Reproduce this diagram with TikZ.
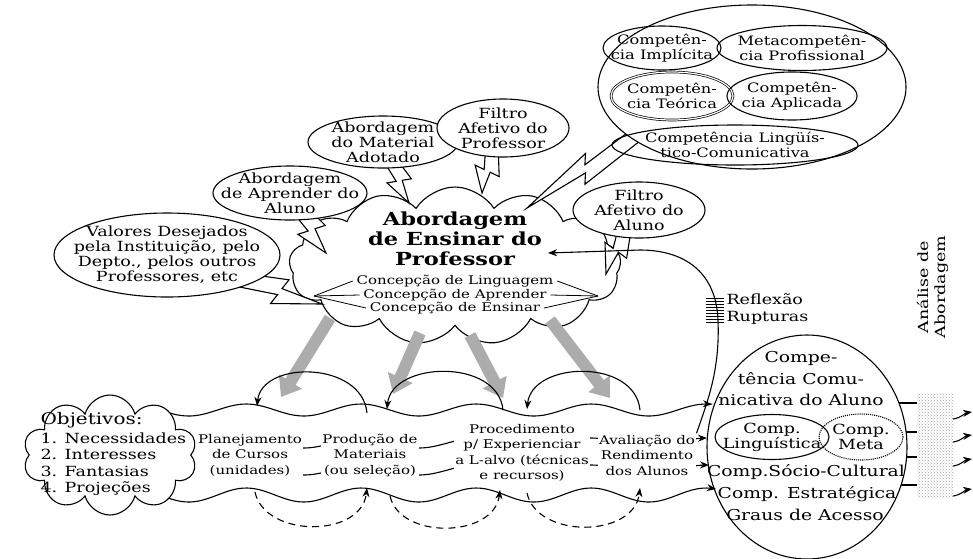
\documentclass[tikz,border=0pt]{standalone}
\usepackage{fontspec}
\setmainfont{DejaVu Serif}[FakeStretch=1.25]
\usetikzlibrary{shapes.geometric,shapes.symbols,arrows.meta,patterns}

\begin{document}
\begin{tikzpicture}[x=1pt, y=-1pt, line width=1.1pt,
  bubble/.style={ellipse, draw, fill=white, inner sep=0pt},
  inbubble/.style={ellipse, draw, inner sep=0pt},
  lbl/.style={align=center, inner sep=0pt, font=\fontsize{14}{15}\selectfont},
  smalllbl/.style={align=center, inner sep=0pt, font=\fontsize{13}{14.5}\selectfont},
  tail/.style={draw, fill=white},
  rowtxt/.style={align=center, fill=white, inner sep=1pt, font=\fontsize{12}{15.5}\selectfont},
  alunotxt/.style={align=center, inner sep=0pt, font=\fontsize{15}{21.5}\selectfont},
  bigarrow/.style={line width=12pt, gray!65, -{Triangle[length=18pt,width=26pt]}},
  flow/.style={-{Stealth[length=9pt,width=7pt]}},
]
\useasboundingbox (0,0) rectangle (973,558);

% teaching approach cloud
\node[cloud, draw, cloud puffs=13, cloud puff arc=115, cloud ignores aspect,
  minimum width=332pt, minimum height=158pt, inner sep=0pt] (ensino) at (455,266) {};

% callout tails
\draw[tail] (242,273.3) -- (289,279.8) -- (282,288.6) -- (322,304) -- (270.5,303.5) -- (277.6,294.6) -- (238,286.7) -- cycle;
\draw[tail] (303.9,204.3) -- (325.3,225.4) -- (315,228.7) -- (326,253) -- (297.9,234.3) -- (308.2,231) -- (292.1,211.7) -- cycle;
\draw[tail] (395.5,157.6) -- (411.4,178.8) -- (402.2,180.3) -- (409,203) -- (387,182.9) -- (396.2,181.4) -- (384.5,162.4) -- cycle;
\draw[tail] (498.3,151.5) -- (499.2,176.6) -- (490.2,172.2) -- (482,193) -- (475.1,165.1) -- (484.1,169.5) -- (485.7,148.5) -- cycle;
\draw[tail] (643.9,137.8) -- (584.9,184.3) -- (585.5,172.9) -- (527,208) -- (585.5,153.5) -- (584.9,164.8) -- (636.1,126.2) -- cycle;
\draw[tail] (631,230.5) -- (626.6,258.3) -- (618.5,252.2) -- (606,274) -- (605,242.3) -- (613.1,248.4) -- (619,225.5) -- cycle;

% callouts
\node[bubble, minimum width=226pt, minimum height=84pt,
  label={[lbl]center:{Valores Desejados\\pela Instituição, pelo\\Depto., pelos outros\\Professores, etc}}] (valores) at (167,255) {};
\node[bubble, minimum width=154pt, minimum height=54pt,
  label={[lbl]center:{Abordagem\\de Aprender do\\Aluno}}] (aprender) at (290,193) {};
\node[bubble, minimum width=150pt, minimum height=52pt,
  label={[lbl]center:{Abordagem\\do Material\\Adotado}}] (material) at (383,142) {};
\node[bubble, minimum width=132pt, minimum height=58pt,
  label={[lbl]center:{Filtro\\Afetivo do\\Professor}}] (filtroP) at (503,128) {};
\node[bubble, minimum width=308pt, minimum height=164pt] (compet) at (752,87) {};
\node[inbubble, minimum width=118pt, minimum height=44pt,
  label={[smalllbl]center:{Competên-\\cia Implícita}}] (implicita) at (662,48) {};
\node[inbubble, minimum width=170pt, minimum height=45pt,
  label={[smalllbl]center:{Metacompetên-\\cia Profissional}}] (metaprof) at (802,48) {};
\node[inbubble, double, double distance=1.2pt, line width=0.7pt, minimum width=122pt, minimum height=48pt,
  label={[smalllbl]center:{Competên-\\cia Teórica}}] (teorica) at (672,96) {};
\node[inbubble, minimum width=130pt, minimum height=48pt,
  label={[smalllbl]center:{Competên-\\cia Aplicada}}] (aplicada) at (792,96) {};
\node[inbubble, minimum width=246pt, minimum height=40pt,
  label={[smalllbl]center:{Competência Lingüís-\\tico-Comunicativa}}] (lingcom) at (735,145) {};
\node[bubble, minimum width=132pt, minimum height=56pt,
  label={[lbl]center:{Filtro\\Afetivo do\\Aluno}}] (filtroA) at (639,210) {};

% cloud text
\node[align=center, font=\fontsize{18}{20}\selectfont\bfseries] (titulo) at (455,239) {Abordagem\\de Ensinar do\\Professor};
\node[font=\fontsize{12}{13}\selectfont] (conL) at (455,281) {Concepção de Linguagem};
\node[font=\fontsize{12}{13}\selectfont] (conA) at (455,295) {Concepção de Aprender};
\node[font=\fontsize{12}{13}\selectfont] (conE) at (455,308) {Concepção de Ensinar};
\coordinate (fanL) at (314,296);
\coordinate (fanR) at (598,296);
\foreach \c in {conL,conA,conE}
  \draw[line width=0.8pt] (\c.west) -- (fanL) (\c.east) -- (fanR);

% shaded arrows down to the band
\coordinate (ga1) at (330,318); \coordinate (gb1) at (281,397);
\coordinate (ga2) at (420,333); \coordinate (gb2) at (393,394);
\coordinate (ga3) at (470,335); \coordinate (gb3) at (503,398);
\coordinate (ga4) at (550,320); \coordinate (gb4) at (610,398);
\foreach \i in {1,...,4}
  \draw[bigarrow] (ga\i) -- (gb\i);

% learner competence
\node[draw=none, pattern=crosshatch dots, pattern color=gray!70, minimum width=36pt,
  minimum height=104pt, inner sep=0pt] (analise) at (935,445) {};
\foreach \t in {403,432,457,485}
  \draw (880,\t) -- (917,\t);
\node[ellipse, draw, fill=white, minimum width=200pt, minimum height=224pt, inner sep=0pt] (aluno) at (807,447) {};
\node[alunotxt] (alunoT) at (801,379) {Compe-\\tência Comu-\\nicativa do Aluno};
\node[inbubble, minimum width=114pt, minimum height=45pt,
  label={[lbl]center:{Comp.\\Linguística}}] (ling) at (772,437) {};
\node[inbubble, densely dotted, minimum width=84pt, minimum height=46pt,
  label={[lbl]center:{Comp.\\Meta}}] (cmeta) at (861,437) {};
\node[alunotxt] (socio) at (806,472) {Comp.Sócio-Cultural};
\node[alunotxt] (estrat) at (807,494) {Comp. Estratégica};
\node[alunotxt] (graus) at (805,515) {Graus de Acesso};

% wavy band
\foreach \yy/\aa/\xa/\xb in {410/6/160/712, 443/5/197/707, 470/5/197/709, 495/7/160/716}
  \draw[flow] plot[domain=\xa:\xb, samples=90, smooth] (\x,{\yy+\aa*sin(((\x-160)/115)*360)});

\node[cloud, draw, fill=white, cloud puffs=10, cloud ignores aspect, minimum width=174pt,
  minimum height=120pt, inner sep=0pt] (objetivos) at (110,455) {};
\node[anchor=north west, align=left, inner sep=0pt, font=\fontsize{14}{16.5}\selectfont] (objT) at (40,412)
  {{\fontsize{16}{17}\selectfont Objetivos:}\\[2pt]1. Necessidades\\2. Interesses\\3. Fantasias\\4. Projeções};

\node[rowtxt] (plan) at (250,455) {Planejamento\\de Cursos\\(unidades)};
\node[rowtxt] (prod) at (370,455) {Produção de\\Materiais\\(ou seleção)};
\node[rowtxt] (proc) at (522,453) {Procedimento\\p/ Experienciar\\a L-alvo (técnicas\\e recursos)};
\node[rowtxt] (aval) at (647,455) {Avaliação do\\Rendimento\\dos Alunos};

% arcs over and under the band
\coordinate (p1) at (257,406); \coordinate (p2) at (367,413);
\coordinate (p3) at (387,409); \coordinate (p4) at (503,410);
\coordinate (p5) at (527,409); \coordinate (p6) at (640,410);
\draw[flow] (p2) .. controls +(-5,-52) and +(5,-46) .. (p1);
\draw[flow] (p4) .. controls +(-5,-52) and +(5,-48) .. (p3);
\draw[flow] (p6) .. controls +(-5,-52) and +(5,-48) .. (p5);
\coordinate (q1) at (255,492); \coordinate (q2) at (367,488);
\coordinate (q3) at (390,496); \coordinate (q4) at (500,490);
\coordinate (q5) at (527,493); \coordinate (q6) at (640,488);
\draw[flow, dash pattern=on 7pt off 5pt] (q1) .. controls +(10,46) and +(-6,50) .. (q2);
\draw[flow, dash pattern=on 7pt off 5pt] (q3) .. controls +(10,44) and +(-6,48) .. (q4);
\draw[flow, dash pattern=on 7pt off 5pt] (q5) .. controls +(10,46) and +(-6,50) .. (q6);

% feedback to the teacher
\coordinate (fbend) at (548,253);
\draw[flow] (aval.north east) .. controls (708,400) and (720,370) .. (718,320)
  .. controls (716,270) and (682,250) .. (640,250) -- (fbend);
\foreach \t in {298,301,...,322}
  \draw[line width=0.7pt] (706,\t) -- (724,\t);
\node[anchor=west, align=left, inner sep=1pt, font=\fontsize{14}{17}\selectfont] (reflexao) at (725,309) {Reflexão\\Rupturas};

% analysis column
\node[rotate=90, align=center, font=\fontsize{14}{17}\selectfont] (analiseT) at (933,287) {Análise de\\Abordagem};
\foreach \t in {415,438,462,492}
  \draw[flow] (953,{\t+4}) .. controls (961,{\t+3}) and (965,{\t-2}) .. (972,{\t-3});
\end{tikzpicture}
\end{document}
